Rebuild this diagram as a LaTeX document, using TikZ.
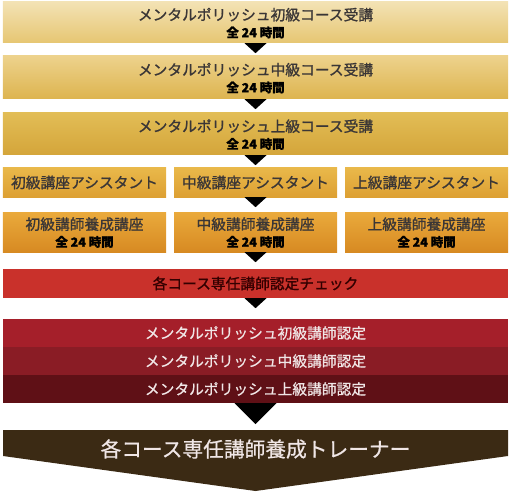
\documentclass[tikz,border=0pt]{standalone}
\usepackage{fontspec}
\setmainfont{Noto Sans CJK JP}
\newfontfamily\heavyjp[FakeBold=1.2]{Noto Sans CJK JP}
\newfontfamily\semijp[FakeBold=0.6]{Noto Sans CJK JP}
\definecolor{goldAt}{HTML}{F3E2B4}
\definecolor{goldAb}{HTML}{E6C672}
\definecolor{goldBt}{HTML}{EDD28C}
\definecolor{goldBb}{HTML}{DDB44F}
\definecolor{goldCt}{HTML}{E2BD56}
\definecolor{goldCb}{HTML}{D4A53A}
\definecolor{asstT}{HTML}{E9B84A}
\definecolor{asstB}{HTML}{DDA033}
\definecolor{crsT}{HTML}{EAAA3C}
\definecolor{crsB}{HTML}{D78A22}
\definecolor{checkred}{HTML}{C9312B}
\definecolor{bandA}{HTML}{A51F2A}
\definecolor{bandB}{HTML}{8A1C25}
\definecolor{bandC}{HTML}{5F1016}
\definecolor{trainerbrown}{HTML}{3B2A14}
\definecolor{darktext}{HTML}{3A3636}
\definecolor{lighttext}{HTML}{F0E6E6}
\begin{document}
\begin{tikzpicture}[x=1bp,y=-1bp,
  box/.style={inner sep=0pt, align=center, text=darktext,
    font=\heavyjp\fontsize{14.8}{17}\selectfont},
  twoline/.style={text depth=-2.5bp},
  wide/.style={box, minimum width=505bp},
  third/.style={box, minimum width=163bp},
  band/.style={wide, minimum height=28bp, text=lighttext, font=\semijp\fontsize{14.8}{17}\selectfont},
  arrowtip/.style={fill=black}]
\useasboundingbox (0,0) rectangle (511,492);
\newcommand{\hrs}{{\bfseries\fontsize{12.5}{17}\selectfont\color{black}全 24 時間}}
% top three courses
\node[wide, twoline, minimum height=41bp, top color=goldAt, bottom color=goldAb] (b1) at (255.5,22.5)
  {メンタルポリッシュ初級コース受講\\\hrs};
\node[wide, twoline, minimum height=43bp, top color=goldBt, bottom color=goldBb] (b2) at (255.5,77.5)
  {メンタルポリッシュ中級コース受講\\\hrs};
\node[wide, twoline, minimum height=42bp, top color=goldCt, bottom color=goldCb] (b3) at (255.5,134)
  {メンタルポリッシュ上級コース受講\\\hrs};
% assistant row
\node[third, minimum height=29bp, top color=asstT, bottom color=asstB] (a1) at (84.5,182.5) {初級講座アシスタント};
\node[third, minimum height=29bp, top color=asstT, bottom color=asstB] (a2) at (255.5,182.5) {中級講座アシスタント};
\node[third, minimum height=29bp, top color=asstT, bottom color=asstB] (a3) at (426.5,182.5) {上級講座アシスタント};
% instructor course row
\node[third, twoline, minimum height=40bp, top color=crsT, bottom color=crsB] (c1) at (84.5,232) {初級講師養成講座\\\hrs};
\node[third, twoline, minimum height=40bp, top color=crsT, bottom color=crsB] (c2) at (255.5,232) {中級講師養成講座\\\hrs};
\node[third, twoline, minimum height=40bp, top color=crsT, bottom color=crsB] (c3) at (426.5,232) {上級講師養成講座\\\hrs};
% check
\node[wide, minimum height=29bp, fill=checkred, text=black!80!red] (chk) at (255.5,283.5) {各コース専任講師認定チェック};
% certification bands
\node[band, fill=bandA] (r1) at (255.5,333) {メンタルポリッシュ初級講師認定};
\node[band, fill=bandB] (r2) at (255.5,361) {メンタルポリッシュ中級講師認定};
\node[band, fill=bandC] (r3) at (255.5,389) {メンタルポリッシュ上級講師認定};
% trainer
\fill[trainerbrown] (3,430) -- (508,430) -- (508,456) -- (255.5,491) -- (3,456) -- cycle;
\node[inner sep=0pt, text=lighttext, font=\semijp\fontsize{20.8}{22}\selectfont] (tr) at (255.5,449) {各コース専任講師養成トレーナー};
% arrows
\foreach \n in {b1,b2,b3,a2,c2,chk}{
  \fill[arrowtip] (\n.south) ++(-11,0) -- ++(22,0) -- ++(-11,10) -- cycle;
}
\fill[arrowtip] (r3.south) ++(-21,0) -- ++(42,0) -- ++(-21,21) -- cycle;
\end{tikzpicture}
\end{document}
